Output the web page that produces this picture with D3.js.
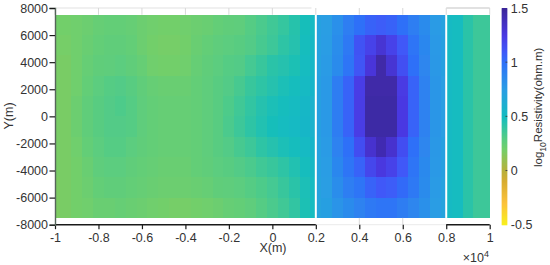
<!DOCTYPE html>
<html><head><meta charset="utf-8">
<script src="https://cdn.jsdelivr.net/npm/d3@7/dist/d3.min.js"></script>
<style>html,body{margin:0;padding:0;background:#fff}svg{display:block}text{font-family:"Liberation Sans",Arial,sans-serif;fill:#333}</style>
</head><body><svg id="c" width="550" height="265"></svg>
<script>
// Cell edges along X (metres)
const xEdges = [-10000,-9750,-9250,-8750,-8250,-7750,-7250,-6750,-6250,-5750,-5250,-4750,-4250,-3750,-3250,-2750,-2250,-1750,-1250,-750,-250,250,750,1250,1750,2000,
 2250,2750,3250,3750,4250,4750,5250,5750,6250,6750,7250,7750,8000,
 8250,8750,9250,9750,10000];
// Cell edges along Y (metres), top to bottom
const yEdges = [7500,6000,4500,3000,1500,0,-1500,-3000,-4500,-6000,-7500];
// log10 resistivity per row, top to bottom
const row0 = [.20,.20,.21,.22,.24,.25,.25,.24,.22,.21,.20,.20,.21,.22,.23,.25,.26,.27,.30,.33,.36,.39,.43,.48,.52, .72,.74,.82,.92,1.0,1.06,1.08,1.06,1.0,.92,.85,.76,.72, .52,.50,.42,.37,.37];
const row1 = [.19,.19,.21,.23,.25,.26,.26,.25,.22,.20,.19,.19,.20,.23,.25,.27,.28,.29,.31,.34,.37,.41,.44,.49,.53, .72,.75,.84,.95,1.13,1.2,1.3,1.2,1.1,.98,.87,.77,.73, .52,.50,.42,.37,.37];
const row2 = [.18,.18,.21,.24,.26,.27,.28,.26,.24,.21,.20,.20,.21,.24,.26,.28,.30,.31,.35,.38,.42,.44,.46,.50,.54, .72,.76,.85,.97,1.12,1.28,1.45,1.3,1.14,1.0,.88,.78,.73, .52,.50,.42,.37,.37];
const row3 = [.18,.18,.21,.25,.28,.30,.31,.29,.26,.24,.23,.23,.23,.25,.27,.29,.31,.34,.38,.41,.44,.47,.49,.52,.56, .73,.77,.93,1.05,1.22,1.45,1.45,1.45,1.24,1.05,.90,.79,.74, .52,.50,.42,.37,.37];
const row4 = [.18,.18,.22,.26,.29,.31,.32,.30,.27,.25,.24,.24,.24,.25,.27,.29,.32,.36,.40,.44,.47,.49,.51,.54,.58, .73,.77,.93,1.05,1.23,1.46,1.46,1.46,1.25,1.05,.90,.79,.74, .52,.50,.42,.37,.37];
const row5 = [.18,.18,.22,.26,.29,.31,.31,.30,.27,.25,.24,.24,.24,.25,.27,.29,.33,.37,.41,.45,.48,.50,.52,.55,.58, .73,.77,.93,1.05,1.23,1.46,1.46,1.46,1.25,1.05,.90,.79,.74, .52,.50,.42,.37,.37];
const row6 = [.18,.18,.21,.25,.28,.30,.30,.28,.26,.25,.24,.24,.24,.25,.27,.29,.31,.34,.37,.41,.44,.47,.49,.52,.56, .72,.76,.90,1.0,1.15,1.32,1.42,1.32,1.15,1.0,.88,.78,.73, .52,.50,.42,.37,.37];
const row7 = [.18,.18,.20,.23,.27,.28,.28,.26,.25,.24,.23,.23,.23,.25,.26,.28,.29,.31,.33,.36,.38,.41,.45,.49,.53, .72,.75,.87,.97,1.05,1.18,1.26,1.2,1.1,.97,.86,.77,.73, .52,.50,.42,.37,.37];
const row8 = [.17,.18,.20,.22,.25,.26,.26,.25,.24,.23,.22,.22,.22,.23,.24,.26,.27,.28,.30,.32,.35,.38,.42,.47,.51, .71,.74,.84,.92,.98,1.05,1.10,1.08,1.02,.95,.85,.76,.72, .52,.50,.42,.37,.37];
const row9 = [.17,.18,.20,.21,.23,.23,.24,.23,.22,.21,.20,.19,.19,.20,.21,.22,.24,.25,.27,.30,.33,.36,.40,.46,.50, .70,.73,.80,.85,.90,.95,.98,.97,.93,.88,.82,.75,.71, .52,.50,.42,.37,.37];
const rows = [row0,row1,row2,row3,row4,row5,row6,row7,row8,row9];
// Colour ramp
const cStops = [-0.5,-0.3,-0.1,0,0.1,0.2,0.3,0.4,0.5,0.75,1.0,1.1,1.25,1.45,1.5];
const cColors = ["#f8f01c","#fcc23a","#d8ac30","#b8b03a","#96c050","#72cf6a","#55cc84","#32c5a2","#12bcc0","#2a9de4","#2f70f8","#3f58f8","#4a38e2","#3f2aa8","#3a2598"];
const xTicks = [-10000,-8000,-6000,-4000,-2000,0,2000,4000,6000,8000,10000];
const xTickLabels = ["-1","-0.8","-0.6","-0.4","-0.2","0","0.2","0.4","0.6","0.8","1"];
const yTicks = [8000,6000,4000,2000,0,-2000,-4000,-6000,-8000];
const cTicks = [1.5,1,0.5,0,-0.5];
const breaks = [2000,8000];

const svg = d3.select("#c");
const x = d3.scaleLinear().domain([-10000,10000]).range([55,489.7]);
const y = d3.scaleLinear().domain([8000,-8000]).range([8,224.7]);
const color = d3.scaleLinear().domain(cStops).range(cColors).clamp(true);
const fs = 12.5;

const defs = svg.append("defs");
defs.append("filter").attr("id","soft").attr("x","-2%").attr("y","-2%").attr("width","104%").attr("height","104%")
  .append("feGaussianBlur").attr("stdDeviation",0.5);

// Heat cells
const heat = svg.append("g").attr("filter","url(#soft)").attr("shape-rendering","crispEdges");
rows.forEach((r,i)=>{
  heat.append("g").selectAll("rect").data(r).join("rect")
    .attr("x",(d,j)=>x(xEdges[j]))
    .attr("width",(d,j)=>x(xEdges[j+1])-x(xEdges[j])+0.6)
    .attr("y",y(yEdges[i]))
    .attr("height",y(yEdges[i+1])-y(yEdges[i])+(i<rows.length-1?0.6:0))
    .attr("fill",d=>color(d));
});
// White separators
svg.append("g").selectAll("line").data(breaks).join("line")
  .attr("x1",d=>x(d)).attr("x2",d=>x(d)).attr("y1",y(7500)).attr("y2",y(-7500))
  .attr("stroke","#fff").attr("stroke-width",2);

// Box: light top line and central bottom segment
const light = (a,b,yy,c)=>svg.append("line").attr("x1",x(a)).attr("x2",x(b)).attr("y1",y(yy)).attr("y2",y(yy)).attr("stroke",c).attr("stroke-width",1.2);
light(-10000,1800,8000,"#e2e2e2");
light(8000,10000,8000,"#c4c4c4");
light(2000,8000,-8000,"#eeeeee");
// Light inner tick marks
svg.append("g").selectAll("line").data(xTicks).join("line")
  .attr("x1",d=>x(d)).attr("x2",d=>x(d)).attr("y1",y(8000)).attr("y2",y(7500))
  .attr("stroke","#d8d8d8");
svg.append("g").selectAll("line").data(xTicks.filter(d=>d>2000&&d<8000)).join("line")
  .attr("x1",d=>x(d)).attr("x2",d=>x(d)).attr("y1",y(-7500)).attr("y2",y(-8000))
  .attr("stroke","#d8d8d8");

// X axis
const gx = svg.append("g").attr("transform",`translate(0,${y(-8000)})`)
  .call(d3.axisBottom(x).tickValues(xTicks).tickFormat((d,i)=>xTickLabels[i]).tickSize(4.5).tickPadding(4));
gx.select(".domain").remove();
gx.selectAll("line").attr("stroke","#1a1a1a").attr("stroke-width",1.2);
gx.selectAll("text").attr("font-size",fs).attr("fill","#333");
const dark = (a,b)=>svg.append("line").attr("x1",x(a)).attr("x2",x(b)).attr("y1",y(-8000)).attr("y2",y(-8000)).attr("stroke","#1a1a1a").attr("stroke-width",1.4);
dark(-10000,2000); dark(8000,10000);

// Y axis
const gy = svg.append("g").attr("transform",`translate(${x(-10000)},0)`)
  .call(d3.axisLeft(y).tickValues(yTicks).tickFormat(d=>String(d)).tickSize(5.5).tickPadding(1.5));
gy.select(".domain").attr("stroke","#55655a").attr("stroke-width",1.4);
gy.selectAll("line").attr("stroke","#1a1a1a").attr("stroke-width",1.2);
gy.selectAll("text").attr("font-size",fs).attr("fill","#333");

// Axis titles
svg.append("text").attr("x",273).attr("y",252).attr("text-anchor","middle").attr("font-size",fs).text("X(m)");
svg.append("text").attr("transform",`translate(13,116) rotate(-90)`).attr("text-anchor","middle").attr("font-size",fs).text("Y(m)");

// Exponent
const ex = svg.append("text").attr("x",489).attr("y",262).attr("text-anchor","end").attr("font-size",fs);
ex.append("tspan").text("×10");
ex.append("tspan").attr("font-size",9).attr("dy",-5).text("4");

// Colour bar
const cb = d3.scaleLinear().domain([1.5,-0.5]).range([8,224.7]);
const cbVals = d3.range(0,217).map(i=>cb.invert(8+i));
svg.append("g").selectAll("rect").data(cbVals).join("rect")
  .attr("x",501.7).attr("width",5.6).attr("y",d=>cb(d)).attr("height",1.3).attr("fill",d=>color(d));
const gc = svg.append("g").attr("transform","translate(507.3,0)")
  .call(d3.axisRight(cb).tickValues(cTicks).tickFormat(d=>String(d)).tickSize(0).tickPadding(3.5));
gc.select(".domain").remove();
gc.selectAll("text").attr("font-size",fs).attr("fill","#333");
svg.append("g").selectAll("line").data(cTicks.slice(1,4)).join("line")
  .attr("x1",505.5).attr("x2",507.3).attr("y1",d=>cb(d)).attr("y2",d=>cb(d)).attr("stroke","#444");

// Colour bar title
const ct = svg.append("text").attr("transform","translate(542,167) rotate(-90)").attr("font-size",11.5);
ct.append("tspan").text("log");
ct.append("tspan").attr("font-size",8.5).attr("dy",4).text("10");
ct.append("tspan").attr("dy",-4).text("Resistivity(ohm.m)");
</script></body></html>
